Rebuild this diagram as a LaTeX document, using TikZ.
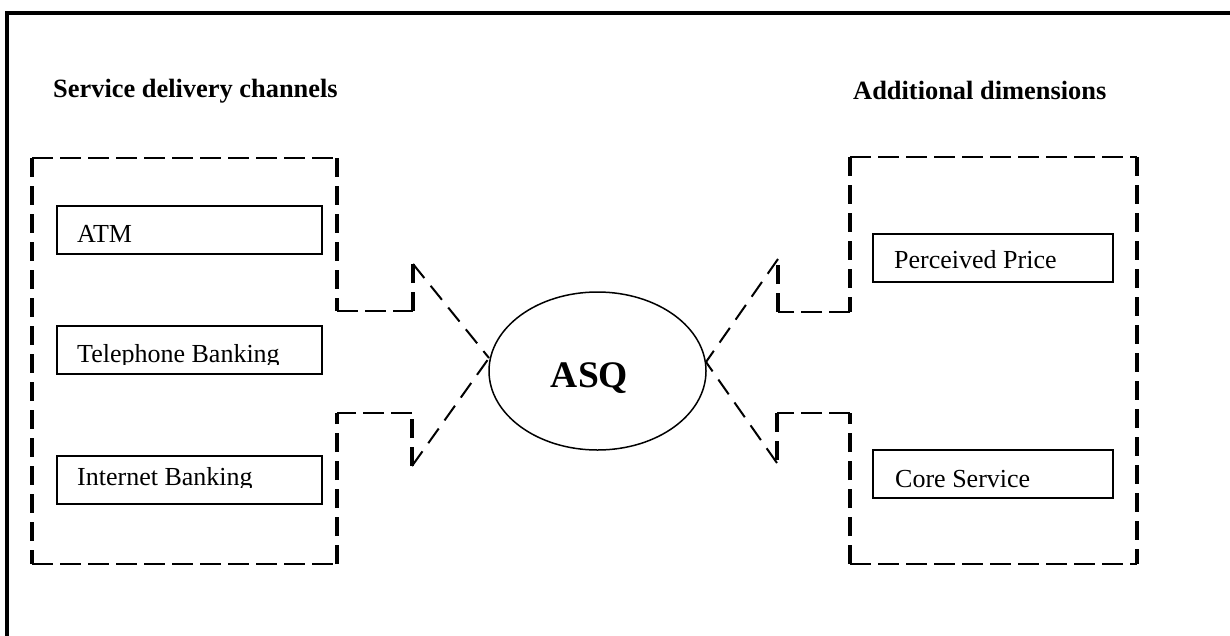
\documentclass[tikz,border=0pt]{standalone}
\usepackage{fontspec}
\setmainfont{Liberation Serif}
\usetikzlibrary{shapes.geometric}
\begin{document}
\begin{tikzpicture}[x=1pt,y=-1pt,
  frame/.style={line width=3.7pt,line join=miter},
  dashv/.style={line width=4pt,dash pattern=on 19pt off 9pt},
  dashh/.style={line width=2.8pt,dash pattern=on 21pt off 7pt},
  dashd/.style={line width=2pt,dash pattern=on 18pt off 10pt},
  chbox/.style={draw,line width=1.3pt,minimum width=265pt,minimum height=48pt,inner sep=0pt},
  dimbox/.style={draw,line width=1.3pt,minimum width=240pt,minimum height=48pt,inner sep=0pt},
  lbl/.style={font=\fontsize{26}{30}\selectfont,inner sep=0pt,anchor=base west},
  head/.style={font=\fontsize{26.4}{30}\selectfont\bfseries,inner sep=0pt,anchor=base west},
]
\useasboundingbox (0,0) rectangle (1230,635);
\fill[white] (0,0) rectangle (1230,635);

% outer frame (only left and top edges visible)
\draw[frame] (6.8,640) -- (6.8,12.7) -- (1240,12.7);

% headings
\node[head] (hl) at (53,97) {Service delivery channels};
\node[head] (hr) at (853,99) {Additional dimensions};

% left dashed block arrow
\coordinate (a1) at (32,158);
\coordinate (a2) at (337,158);
\coordinate (a3) at (337,311);
\coordinate (a4) at (413,311);
\coordinate (a5) at (413,264);
\coordinate (a6) at (489,358);
\coordinate (a7) at (412,466);
\coordinate (a8) at (412,413);
\coordinate (a9) at (337,413);
\coordinate (a10) at (337,564);
\coordinate (a11) at (32,564);
\draw[dashv] (a1) -- (a11);
\draw[dashv] (a2) -- (a3);
\draw[dashv] (a4) -- (a5);
\draw[dashv] (a7) -- (a8);
\draw[dashv] (a10) -- (a9);
\draw[dashh] (a1) -- (a2);
\draw[dashh] (a3) -- (a4);
\draw[dashh] (a8) -- (a9);
\draw[dashh] (a11) -- (a10);
\draw[dashd] (a5) -- (a6);
\draw[dashd] (a7) -- (a6);

% right dashed block arrow
\coordinate (b1) at (850,157);
\coordinate (b2) at (1137,157);
\coordinate (b3) at (1137,564);
\coordinate (b4) at (850,564);
\coordinate (b5) at (850,413);
\coordinate (b6) at (777,413);
\coordinate (b7) at (777,463);
\coordinate (b8) at (706,362);
\coordinate (b9) at (778,259);
\coordinate (b10) at (778,312);
\coordinate (b11) at (850,312);
\draw[dashv] (b1) -- (b11);
\draw[dashv] (b2) -- (b3);
\draw[dashv] (b4) -- (b5);
\draw[dashv] (b6) -- (b7);
\draw[dashv] (b10) -- (b9);
\draw[dashh] (b1) -- (b2);
\draw[dashh] (b4) -- (b3);
\draw[dashh] (b5) -- (b6);
\draw[dashh] (b11) -- (b10);
\draw[dashd] (b9) -- (b8);
\draw[dashd] (b7) -- (b8);

% left boxes
\node[chbox] (atm) at (189.5,230) {};
\node[lbl] (atmt) at (77,242) {ATM};
\node[chbox] (tel) at (189.5,350) {};
\begin{scope}
  \clip (57,326) rectangle (322,364.5);
  \node[lbl] (telt) at (77,362) {Telephone Banking};
\end{scope}
\node[chbox] (inet) at (189.5,480) {};
\begin{scope}
  \clip (57,456) rectangle (322,487.5);
  \node[lbl] (inett) at (77,485) {Internet Banking};
\end{scope}

% right boxes
\node[dimbox] (price) at (993,258) {};
\node[lbl] (pricet) at (894,268) {Perceived Price};
\node[dimbox] (core) at (993,474) {};
\node[lbl] (coret) at (895,487) {Core Service};

% central ellipse
\node[draw,ellipse,line width=1.5pt,minimum width=217pt,minimum height=158pt,inner sep=0pt] (asq) at (597.5,371) {};
\node[font=\fontsize{37.5}{40}\selectfont\bfseries,anchor=base,inner sep=0pt] (asqt) at (589.5,387) {ASQ};
\end{tikzpicture}
\end{document}
